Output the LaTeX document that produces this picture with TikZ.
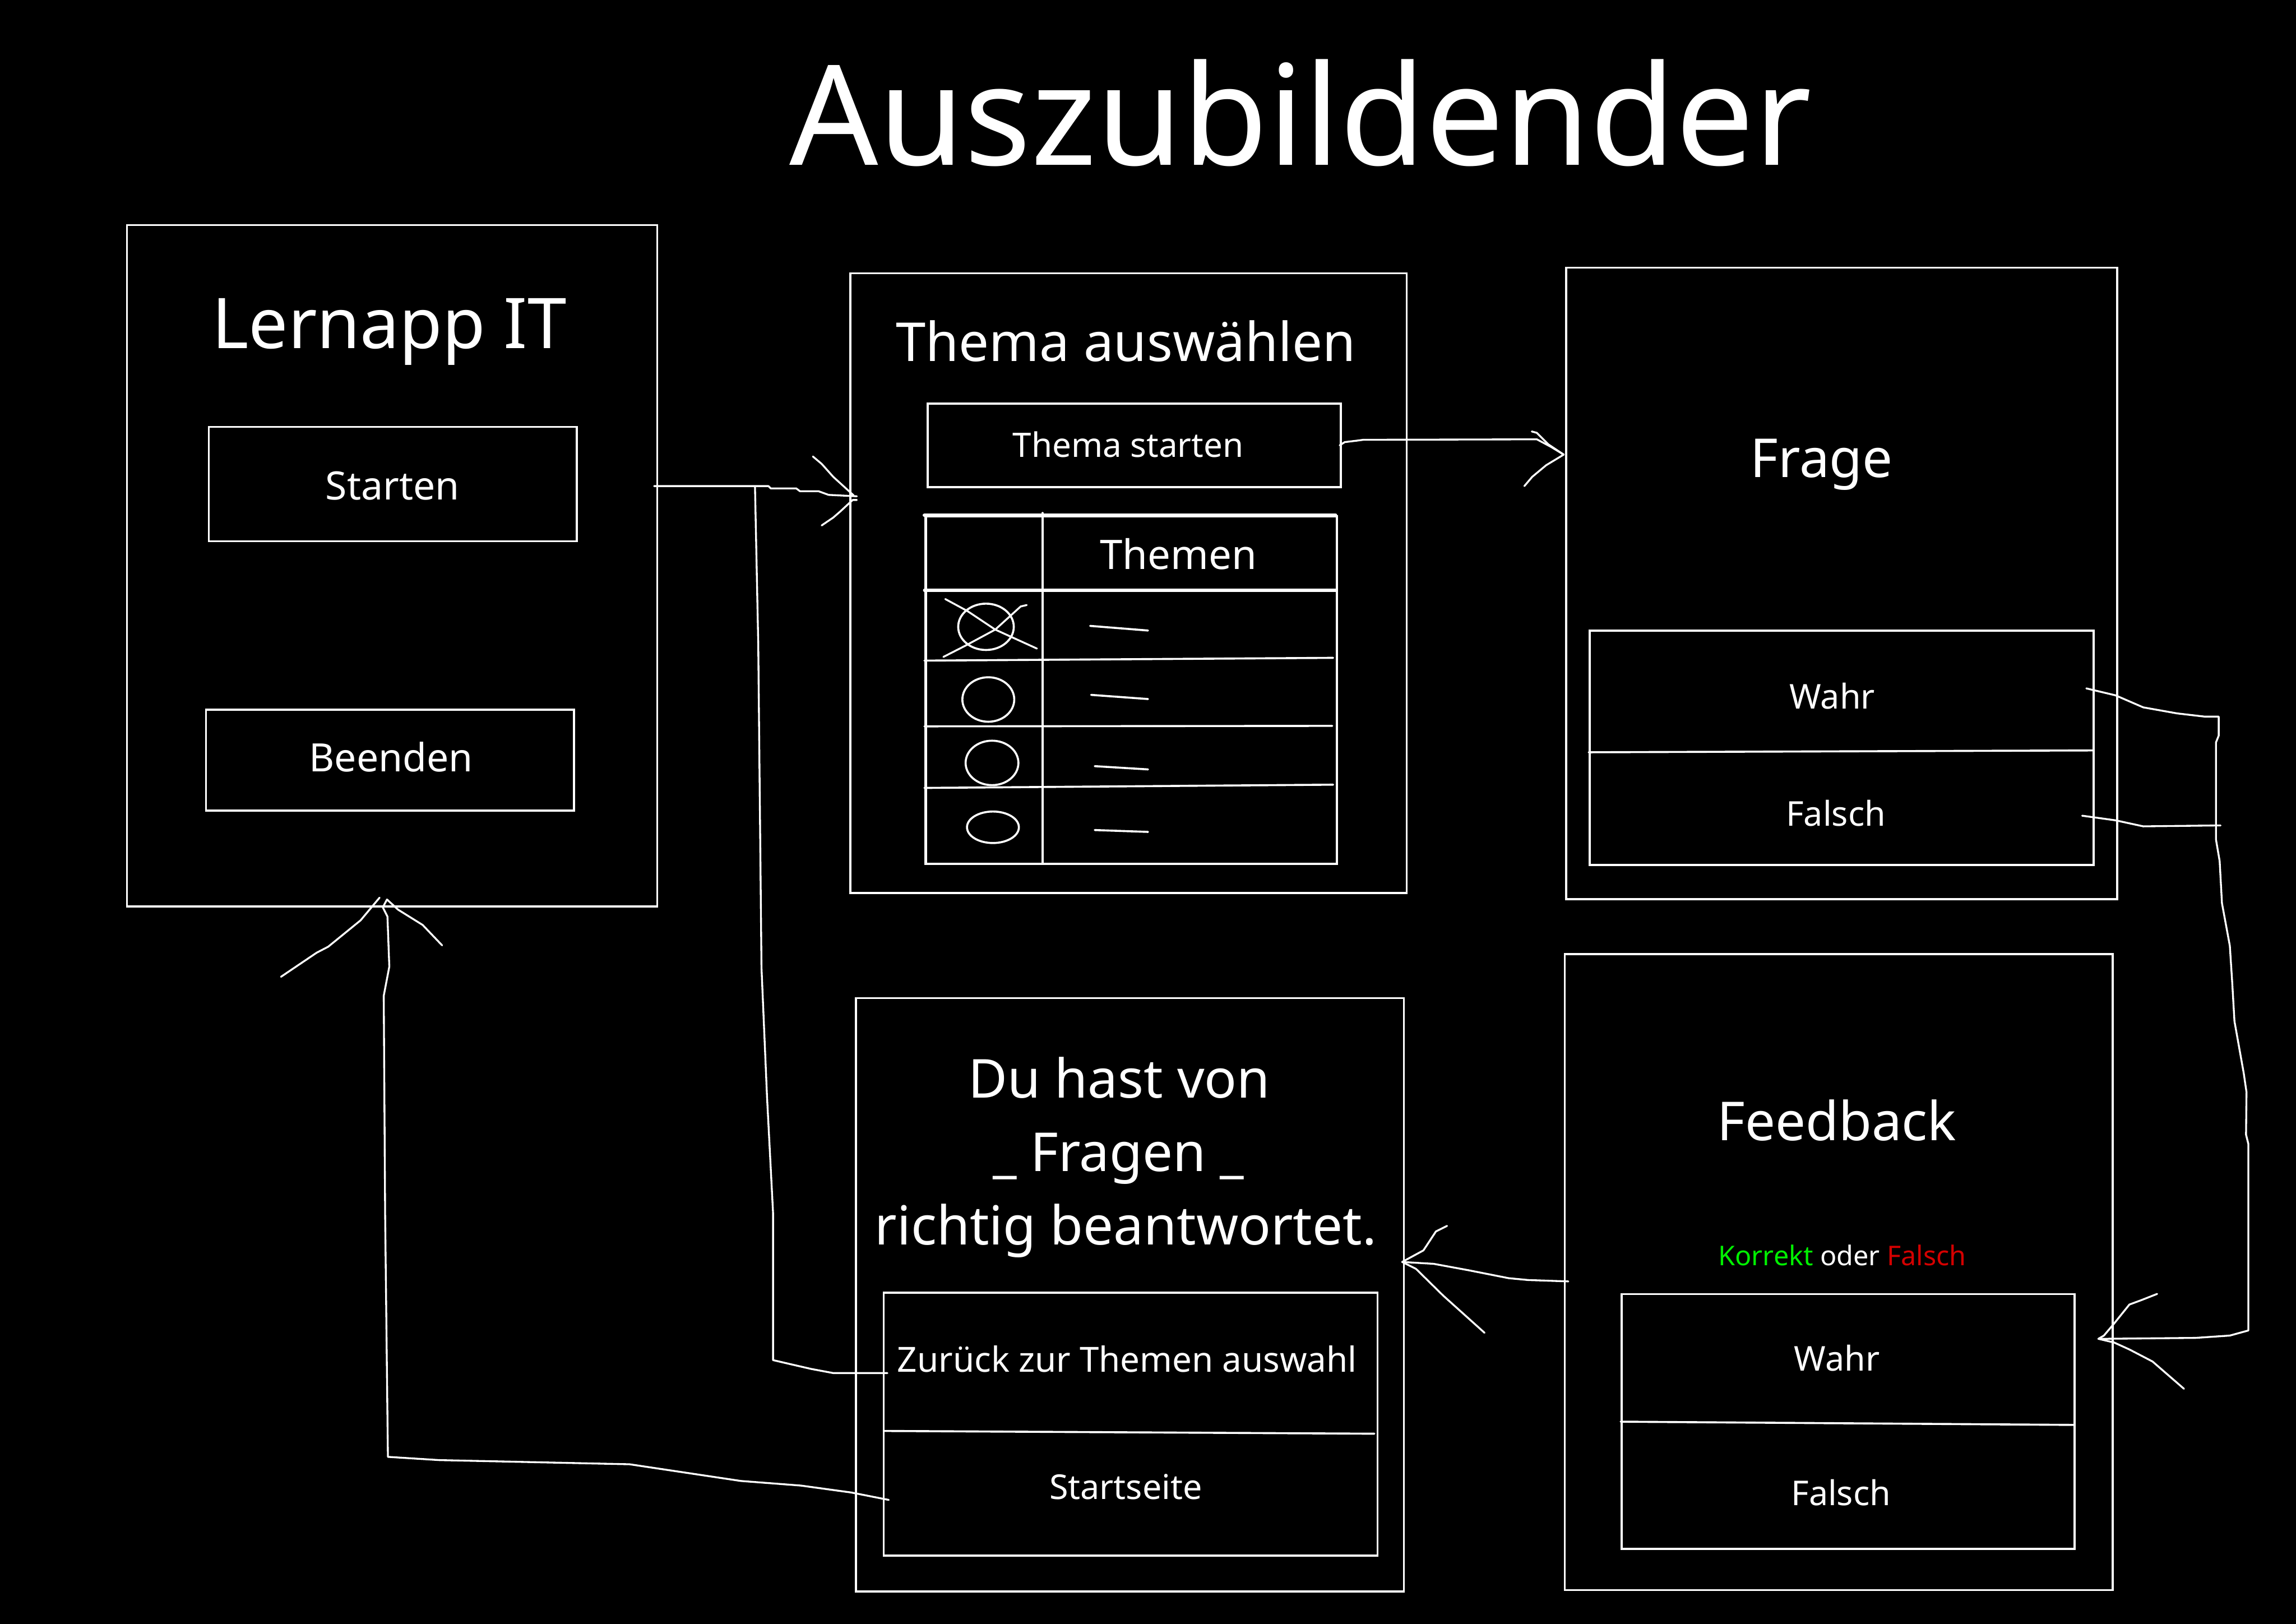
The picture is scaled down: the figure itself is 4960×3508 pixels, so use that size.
\documentclass[tikz,border=0pt]{standalone}
\usepackage{fontspec}
\setmainfont{Noto Sans}
\definecolor{okgreen}{RGB}{0,240,0}
\definecolor{badred}{RGB}{212,0,0}
\newcommand\setfs[1]{\fontsize{#1}{#1}\selectfont}
\tikzset{
  box/.style={draw=white, line width=1.25pt, inner sep=0pt, anchor=north west},
  hand/.style={draw=white, line width=1.15pt, line join=round, line cap=round},
  txt/.style={text=white, inner sep=0pt, anchor=base},
  tline/.style={draw=white, line width=1.25pt, line cap=round},
}
\begin{document}
\begin{tikzpicture}[x=0.01cm,y=-0.01cm]
\fill[black] (0,0) rectangle (4960,3508);
\useasboundingbox (0,0) rectangle (4960,3508);

% title
\node[txt, font=\setfs{85.5pt}] (title) at (2810,357) {Auszubildender};

% --- Lernapp IT
\node[box, minimum width=11.45cm, minimum height=14.71cm] (lern) at (272,484) {};
\node[txt, font=\setfs{43pt}] (lerntitle) at (841,753) {Lernapp IT};
\node[box, minimum width=7.94cm, minimum height=2.47cm] (start) at (449,920) {};
\node[txt, font=\setfs{24pt}] (starttxt) at (848,1079) {Starten};
\node[box, minimum width=7.94cm, minimum height=2.18cm] (end) at (443,1531) {};
\node[txt, font=\setfs{24pt}] (endtxt) at (845,1667) {Beenden};

% --- Thema auswaehlen
\node[box, minimum width=12.01cm, minimum height=13.38cm] (thema) at (1835,588) {};
\node[txt, font=\setfs{33pt}] (thematitle) at (2432,781) {Thema auswählen};
\node[box, minimum width=8.92cm, minimum height=1.80cm] (tstart) at (2002,870) {};
\node[txt, font=\setfs{20.7pt}] (tstarttxt) at (2437,987) {Thema starten};

% table
\node[box, line width=1.5pt, minimum width=8.88cm, minimum height=7.50cm] (tab) at (1997,1113) {};
\draw[tline, line width=2.2pt] (1997,1113) -- (2885,1113);
\draw[tline, line width=1.8pt] (1997,1275) -- (2885,1275);
\draw[tline] (1997,1427) -- (2880,1421);
\draw[tline] (1997,1569) -- (2878,1568);
\draw[tline] (1997,1702) -- (2880,1695);
\draw[tline] (2252,1108) -- (2252,1863);
\node[txt, font=\setfs{25pt}] (themen) at (2546,1230) {Themen};
\draw[tline] (2130,1354) ellipse [x radius=0.60cm, y radius=0.50cm];
\draw[hand] (2042,1294) -- (2090,1320) -- (2150,1360) -- (2240,1401);
\draw[hand] (2218,1307) -- (2205,1310) -- (2150,1360) -- (2085,1395) -- (2038,1419);
\draw[tline] (2135,1511) ellipse [x radius=0.56cm, y radius=0.48cm];
\draw[tline] (2143,1648) ellipse [x radius=0.57cm, y radius=0.48cm];
\draw[tline] (2145,1787) ellipse [x radius=0.56cm, y radius=0.34cm];
\draw[tline] (2355,1352) -- (2480,1362);
\draw[tline] (2357,1501) -- (2480,1510);
\draw[tline] (2365,1655) -- (2480,1662);
\draw[tline] (2365,1793) -- (2480,1797);

% --- Frage
\node[box, minimum width=11.90cm, minimum height=13.63cm] (frage) at (3381,576) {};
\node[txt, font=\setfs{33pt}] (fragetitle) at (3935,1031) {Frage};
\node[box, minimum width=10.88cm, minimum height=5.06cm] (fans) at (3432,1360) {};
\draw[tline] (3432,1625) -- (4520,1621);
\node[txt, font=\setfs{21pt}] (fwahr) at (3958,1531) {Wahr};
\node[txt, font=\setfs{21pt}] (ffalsch) at (3966,1784) {Falsch};

% --- Feedback
\node[box, minimum width=11.83cm, minimum height=13.73cm] (fb) at (3378,2059) {};
\node[txt, font=\setfs{33pt}] (fbtitle) at (3968,2464) {Feedback};
\node[txt, font=\setfs{16.7pt}] (fbnote) at (3980,2734) {\textcolor{okgreen}{Korrekt} oder \textcolor{badred}{Falsch}};
\node[box, minimum width=9.78cm, minimum height=5.50cm] (fbans) at (3501,2793) {};
\draw[tline] (3501,3071) -- (4479,3078);
\node[txt, font=\setfs{21pt}] (fbwahr) at (3968,2961) {Wahr};
\node[txt, font=\setfs{21pt}] (fbfalsch) at (3977,3252) {Falsch};

% --- Ergebnis
\node[box, minimum width=11.83cm, minimum height=12.81cm] (res) at (1847,2154) {};
\node[txt, font=\setfs{33pt}] (res1) at (2418,2372) {Du hast von};
\node[txt, font=\setfs{33pt}] (res2) at (2416,2530) {\_ Fragen \_};
\node[txt, font=\setfs{33pt}] (res3) at (2432,2689) {richtig beantwortet.};
\node[box, minimum width=10.66cm, minimum height=5.68cm] (resbtn) at (1907,2790) {};
\draw[tline] (1909,3091) -- (2969,3097);
\node[txt, font=\setfs{21.3pt}] (back) at (2435,2964) {Zurück zur Themen auswahl};
\node[txt, font=\setfs{21pt}] (home) at (2432,3238) {Startseite};

% --- connectors (hand drawn)
% Starten -> Thema auswaehlen
\coordinate (a0) at (1413,1050);
\coordinate (atip) at (1851,1072);
\draw[hand] (a0) -- (1660,1050) -- (1665,1055) -- (1720,1055) -- (1728,1061) -- (1768,1061) -- (1790,1069) -- (atip);
\draw[hand] (1756,986) -- (1775,1002) -- (1800,1030) -- (1844,1070);
\draw[hand] (1775,1135) -- (1800,1118) -- (1815,1105) -- (1842,1080) -- (1851,1080);

% Zurueck -> join
\coordinate (b0) at (1917,2966);
\draw[hand] (b0) -- (1800,2966) -- (1752,2957) -- (1700,2945) -- (1670,2938) -- (1670,2620) -- (1657,2370) -- (1645,2090) -- (1638,1390) -- (1631,1052);

% Thema starten -> Frage
\coordinate (c0) at (2894,962);
\coordinate (ctip) at (3378,982);
\draw[hand] (c0) -- (2905,955) -- (2930,952) -- (2945,950) -- (3320,949) -- (3350,965) -- (ctip);
\draw[hand] (3309,932) -- (3320,935) -- (3345,960) -- (ctip);
\draw[hand] (3293,1050) -- (3310,1030) -- (3340,1005) -- (ctip);

% Frage answers -> Feedback answers
\coordinate (d0) at (4507,1487);
\coordinate (d1) at (4498,1762);
\coordinate (dtip) at (4533,2892);
\draw[hand] (d0) -- (4570,1502) -- (4630,1528) -- (4703,1541) -- (4763,1548) -- (4793,1548) -- (4793,1589) -- (4787,1604) -- (4787,1813) -- (4795,1860) -- (4800,1951) -- (4817,2043) -- (4822,2120) -- (4827,2206) -- (4847,2318) -- (4853,2359) -- (4852,2451) -- (4857,2471) -- (4857,2874) -- (4817,2885) -- (4743,2890) -- (4543,2892) -- (dtip);
\draw[hand] (d1) -- (4570,1772) -- (4630,1785) -- (4797,1783);
\draw[hand] (4660,2795) -- (4627,2808) -- (4600,2818) -- (4567,2859) -- (4545,2885) -- (dtip);
\draw[hand] (4718,3000) -- (4650,2941) -- (4600,2915) -- (4567,2900) -- (dtip);

% Feedback -> Ergebnis
\coordinate (e0) at (3388,2768);
\coordinate (etip) at (3029,2726);
\draw[hand] (e0) -- (3301,2765) -- (3259,2761) -- (3173,2744) -- (3097,2730) -- (etip);
\draw[hand] (3126,2648) -- (3102,2660) -- (3075,2701) -- (etip);
\draw[hand] (3207,2879) -- (3118,2799) -- (3059,2741) -- (etip);

% Startseite -> Lernapp IT
\coordinate (f0) at (1920,3240);
\coordinate (ftip) at (836,1943);
\draw[hand] (f0) -- (1839,3224) -- (1730,3209) -- (1600,3199) -- (1360,3163) -- (949,3154) -- (838,3147) -- (832,2625) -- (829,2151) -- (841,2088) -- (837,1980) -- (827,1960) -- (ftip);
\draw[hand] (607,2110) -- (684,2058) -- (709,2045) -- (779,1988) -- (820,1939);
\draw[hand] (955,2042) -- (913,1998) -- (860,1965) -- (ftip);
\end{tikzpicture}
\end{document}
